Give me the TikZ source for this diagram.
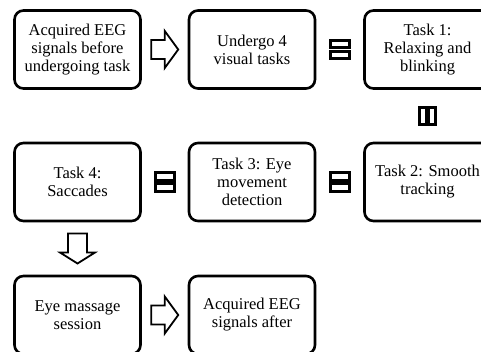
\documentclass[tikz,border=0pt]{standalone}
\usepackage{fontspec}
\setmainfont{Liberation Serif}
\usetikzlibrary{calc}

\tikzset{
  stage/.style={draw, line width=2.6pt, rounded corners=9pt,
    minimum width=126pt, minimum height=78pt, align=center,
    inner sep=2pt, font=\fontsize{16.5}{18}\selectfont},
  blockarrow/.style={draw, line width=1.8pt, fill=white, line join=miter},
  pairbar/.style={draw, line width=2.9pt, fill=white},
}

% horizontal block arrow centred on a coordinate
\newcommand{\rightblock}[1]{%
  \draw[blockarrow] ($(#1)+(-13.5,-9.5)$) -- ($(#1)+(0,-9.5)$) -- ($(#1)+(0,-18.5)$)
    -- ($(#1)+(13.5,0)$) -- ($(#1)+(0,18.5)$) -- ($(#1)+(0,9.5)$)
    -- ($(#1)+(-13.5,9.5)$) -- cycle;}
% downward block arrow centred on a coordinate
\newcommand{\downblock}[1]{%
  \draw[blockarrow] ($(#1)+(-9.5,-15)$) -- ($(#1)+(9.5,-15)$) -- ($(#1)+(9.5,4)$)
    -- ($(#1)+(17.5,4)$) -- ($(#1)+(0,15)$) -- ($(#1)+(-17.5,4)$)
    -- ($(#1)+(-9.5,4)$) -- cycle;}
% two stacked bars (horizontal link)
\newcommand{\hbars}[1]{%
  \draw[pairbar] ($(#1)+(-9.6,-9.2)$) rectangle ($(#1)+(9.6,-1.9)$);
  \draw[pairbar] ($(#1)+(-9.6,1.9)$) rectangle ($(#1)+(9.6,9.2)$);}
% two side-by-side bars (vertical link)
\newcommand{\vbars}[1]{%
  \draw[pairbar] ($(#1)+(-8.2,-8.6)$) rectangle ($(#1)+(-1.4,8.6)$);
  \draw[pairbar] ($(#1)+(1.4,-8.6)$) rectangle ($(#1)+(8.2,8.6)$);}

\begin{document}
\begin{tikzpicture}[x=1pt,y=-1pt]
  \useasboundingbox (0,0) rectangle (481,351);
  \clip (0,0) rectangle (481,351);

  % first row
  \node[stage] (pre)    at (77.5,49.5) {Acquired EEG\\signals before\\undergoing task};
  \node[stage] (visual) at (252,49.5)  {Undergo 4\\visual tasks};
  \node[stage] (t1)     at (427.5,49.5) {Task 1:\\Relaxing and\\blinking};

  % second row
  \node[stage] (t4) at (77.5,182)  {Task 4:\\Saccades};
  \node[stage] (t3) at (252,182)   {Task 3: Eye\\movement\\detection};
  \node[stage] (t2) at (427.5,182) {Task 2: Smooth\\tracking};

  % third row
  \node[stage] (massage) at (77.5,315) {Eye massage\\session};
  \node[stage] (post)    at (252,315)  {Acquired EEG\\signals after};

  % links between the stages
  \coordinate (l1) at ($(pre.east)!0.5!(visual.west)$);
  \coordinate (l2) at ($(visual.east)!0.5!(t1.west)$);
  \coordinate (l3) at ($(t1.south)!0.5!(t2.north)$);
  \coordinate (l4) at ($(t3.east)!0.5!(t2.west)$);
  \coordinate (l5) at ($(t4.east)!0.5!(t3.west)$);
  \coordinate (l6) at ($(t4.south)!0.5!(massage.north)$);
  \coordinate (l7) at ($(massage.east)!0.5!(post.west)$);

  \rightblock{l1}
  \hbars{l2}
  \vbars{l3}
  \hbars{l4}
  \hbars{l5}
  \downblock{l6}
  \rightblock{l7}
\end{tikzpicture}
\end{document}
